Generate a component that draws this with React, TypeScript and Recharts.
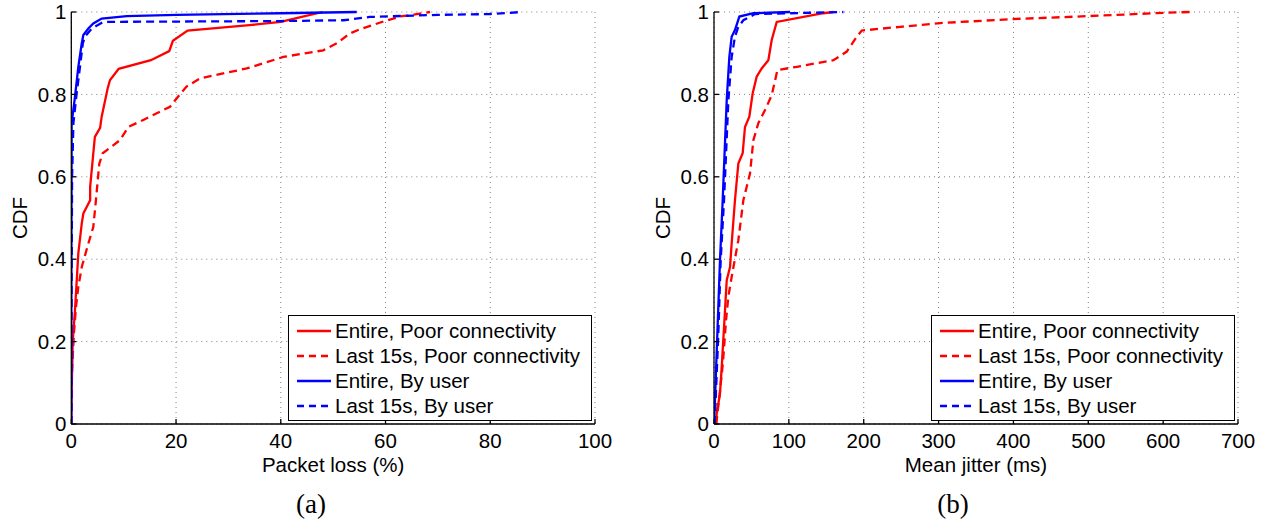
import React from 'react'
import {
  LineChart,
  Line,
  XAxis,
  YAxis,
  CartesianGrid,
  Legend,
} from 'recharts'

type Pt = [number, number]

// (a) packet loss CDFs, [loss %, cdf]
const lossEntirePoor: Pt[] = [
  [0, 0], [0.1, 0.1], [0.2, 0.155], [0.27, 0.2], [0.7, 0.276], [1.34, 0.414], [2.0, 0.487],
  [2.3, 0.511], [3.6, 0.543], [3.6, 0.576], [4.5, 0.697], [5.5, 0.719], [5.8, 0.746],
  [6.95, 0.815], [7.4, 0.835], [9.05, 0.862], [15.2, 0.883], [18.7, 0.905], [19.4, 0.93],
  [22.2, 0.955], [34, 0.968], [40, 0.976], [44, 0.988], [48, 1.0],
]
const lossLastPoor: Pt[] = [
  [0, 0], [0.1, 0.12], [0.5, 0.22], [0.9, 0.284], [1.34, 0.333], [2.0, 0.381], [3.25, 0.438],
  [4.2, 0.478], [4.7, 0.543], [5.35, 0.632], [6.0, 0.657], [9.3, 0.689], [10.9, 0.721],
  [13.75, 0.738], [18.85, 0.77], [20.1, 0.79], [22.0, 0.819], [24.6, 0.839], [33.5, 0.863],
  [40.5, 0.891], [48.1, 0.907], [50.7, 0.924], [53.2, 0.948], [55.1, 0.958], [59.6, 0.977],
  [62.8, 0.989], [68.5, 1.0],
]
const lossEntireUser: Pt[] = [
  [0, 0], [0.02, 0.3], [0.05, 0.6], [0.07, 0.73], [0.7, 0.794], [1.34, 0.867], [2.0, 0.924],
  [2.3, 0.944], [3.25, 0.96], [4.2, 0.972], [5.8, 0.984], [10.6, 0.99], [20.1, 0.993],
  [40, 0.997], [54.5, 1.0],
]
const lossLastUser: Pt[] = [
  [0, 0], [0.05, 0.3], [0.15, 0.6], [0.4, 0.73], [1.0, 0.8], [1.66, 0.867], [2.2, 0.924],
  [2.6, 0.94], [3.9, 0.96], [6.1, 0.976], [40, 0.978], [52, 0.98], [57, 0.988], [70, 0.993],
  [80, 0.995], [86, 1.0],
]

// (b) mean jitter CDFs, [ms, cdf]
const jitterEntirePoor: Pt[] = [
  [2.7, 0], [3.6, 0.025], [8, 0.074], [10.3, 0.138], [14.7, 0.276], [17, 0.349], [21.4, 0.381],
  [23.6, 0.438], [28, 0.543], [32.5, 0.632], [38.3, 0.657], [41.4, 0.721], [47.2, 0.746],
  [51.7, 0.803], [57, 0.843], [63.7, 0.863], [72.6, 0.883], [77.1, 0.932], [83.8, 0.976],
  [146, 0.997], [159.5, 1.0],
]
const jitterLastPoor: Pt[] = [
  [3, 0], [8, 0.08], [12, 0.15], [16, 0.25], [19.1, 0.308], [23.6, 0.357], [32.5, 0.446],
  [39.2, 0.543], [48.1, 0.608], [52.6, 0.689], [59.2, 0.73], [68.2, 0.762], [77.1, 0.798],
  [84.7, 0.859], [110.5, 0.867], [159.5, 0.883], [177.4, 0.904], [190.7, 0.94], [197.4, 0.955],
  [248.7, 0.964], [302, 0.973], [400, 0.983], [500, 0.99], [600, 0.998], [636, 1.0],
]
const jitterEntireUser: Pt[] = [
  [0, 0], [1.3, 0.058], [4.5, 0.22], [8, 0.397], [11.6, 0.543], [17, 0.786], [20.5, 0.891],
  [23.6, 0.94], [28, 0.956], [33.9, 0.989], [52.6, 0.997], [101.6, 1.0],
]
const jitterLastUser: Pt[] = [
  [0.9, 0], [2.2, 0.058], [5.8, 0.22], [8.9, 0.397], [13.4, 0.543], [19.2, 0.786],
  [23.6, 0.891], [28, 0.94], [32.5, 0.964], [39.2, 0.98], [54.8, 0.995], [172.9, 1.0],
]

const seriesNames = [
  'Entire, Poor connectivity',
  'Last 15s, Poor connectivity',
  'Entire, By user',
  'Last 15s, By user',
]
const seriesColors = ['#ff0000', '#ff0000', '#0000ff', '#0000ff']
const seriesDashed = [false, true, false, true]

const cdfTicks = [0, 0.2, 0.4, 0.6, 0.8, 1]
const lossTicks = [0, 20, 40, 60, 80, 100]
const jitterTicks = [0, 100, 200, 300, 400, 500, 600, 700]

const FONT = '"Liberation Sans", Arial, Helvetica, sans-serif'
const FS = 20.5

const toRows = (pts: Pt[]) => pts.map(([x, y]) => ({ x, y }))

function LegendBox() {
  return (
    <div
      style={{
        border: '1.3px solid #000',
        background: '#fff',
        width: 302,
        height: 102,
        boxSizing: 'content-box',
        paddingTop: 2,
        fontFamily: FONT,
        fontSize: FS,
        color: '#000',
      }}
    >
      {seriesNames.map((name, i) => (
        <div key={name} style={{ display: 'flex', alignItems: 'center', height: 25, lineHeight: '25px', whiteSpace: 'nowrap' }}>
          <svg width={34} height={4} style={{ marginLeft: 8, marginRight: 4, flex: 'none' }}>
            <line
              x1={0}
              y1={2}
              x2={34}
              y2={2}
              stroke={seriesColors[i]}
              strokeWidth={2.3}
              strokeDasharray={seriesDashed[i] ? '7 5' : undefined}
            />
          </svg>
          <span>{name}</span>
        </div>
      ))}
    </div>
  )
}

type PanelProps = {
  left: number
  series: Pt[][]
  xMax: number
  xTicks: number[]
  xLabel: string
  yAxisWidth: number
  rightMargin: number
  legendLeft: number
}

function CdfPanel({ left, series, xMax, xTicks, xLabel, yAxisWidth, rightMargin, legendLeft }: PanelProps) {
  const tickStyle = { fill: '#000', fontSize: FS, fontFamily: FONT }
  return (
    <div style={{ position: 'absolute', left, top: 0 }}>
      <LineChart
        width={620}
        height={480}
        margin={{ top: 12, right: rightMargin, left: 0, bottom: 0 }}
      >
        <CartesianGrid stroke="#808080" strokeDasharray="1 4" />
        <XAxis
          type="number"
          dataKey="x"
          domain={[0, xMax]}
          ticks={xTicks}
          allowDataOverflow
          height={56}
          stroke="#000"
          strokeWidth={1.3}
          tickSize={-5}
          tickMargin={14}
          tick={tickStyle}
          label={{ value: xLabel, position: 'insideBottom', offset: 8, fill: '#000', fontSize: FS, fontFamily: FONT }}
        />
        <XAxis
          xAxisId="top"
          orientation="top"
          type="number"
          dataKey="x"
          domain={[0, xMax]}
          ticks={xTicks}
          height={0}
          stroke="#000"
          strokeWidth={1.3}
          tickSize={-5}
          tick={false}
        />
        <YAxis
          type="number"
          domain={[0, 1]}
          ticks={cdfTicks}
          width={yAxisWidth}
          stroke="#000"
          strokeWidth={1.3}
          tickSize={-5}
          tickMargin={10}
          tick={tickStyle}
          label={{
            content: (p: any) => {
              const vb = p.viewBox || { x: 0, y: 12, width: yAxisWidth, height: 412 }
              const cx = vb.x + vb.width - 52
              const cy = vb.y + vb.height / 2
              return (
                <text
                  x={cx}
                  y={cy}
                  transform={`rotate(-90 ${cx} ${cy})`}
                  textAnchor="middle"
                  dominantBaseline="central"
                  fill="#000"
                  fontSize={FS}
                  fontFamily={FONT}
                >
                  CDF
                </text>
              )
            },
          }}
        />
        <YAxis
          yAxisId="right"
          orientation="right"
          type="number"
          domain={[0, 1]}
          ticks={cdfTicks}
          width={0}
          stroke="#000"
          strokeWidth={1.3}
          tickSize={-5}
          tick={false}
        />
        {series.map((pts, i) => (
          <Line
            key={seriesNames[i]}
            data={toRows(pts)}
            dataKey="y"
            type="linear"
            stroke={seriesColors[i]}
            strokeWidth={2.3}
            strokeDasharray={seriesDashed[i] ? '8 5' : undefined}
            dot={false}
            activeDot={false}
            isAnimationActive={false}
          />
        ))}
        <Legend
          layout="horizontal"
          verticalAlign="middle"
          align="center"
          wrapperStyle={{ left: legendLeft, top: 315, width: 304 }}
          content={() => <LegendBox />}
        />
      </LineChart>
    </div>
  )
}

const captionStyle: React.CSSProperties = {
  position: 'absolute',
  top: 489,
  width: 80,
  textAlign: 'center',
  fontFamily: '"Liberation Serif", "DejaVu Serif", serif',
  fontSize: 27,
  lineHeight: '30px',
  color: '#000',
}

export default function App() {
  return (
    <div style={{ position: 'absolute', left: 0, top: 0, width: 1269, height: 524, background: '#fff' }}>
      <CdfPanel
        left={0}
        series={[lossEntirePoor, lossLastPoor, lossEntireUser, lossLastUser]}
        xMax={100}
        xTicks={lossTicks}
        xLabel="Packet loss (%)"
        yAxisWidth={71.3}
        rightMargin={25}
        legendLeft={288}
      />
      <CdfPanel
        left={640}
        series={[jitterEntirePoor, jitterLastPoor, jitterEntireUser, jitterLastUser]}
        xMax={700}
        xTicks={jitterTicks}
        xLabel="Mean jitter (ms)"
        yAxisWidth={74}
        rightMargin={22}
        legendLeft={291}
      />
      <div style={{ ...captionStyle, left: 311 - 40 }}>(a)</div>
      <div style={{ ...captionStyle, left: 953 - 40 }}>(b)</div>
    </div>
  )
}
